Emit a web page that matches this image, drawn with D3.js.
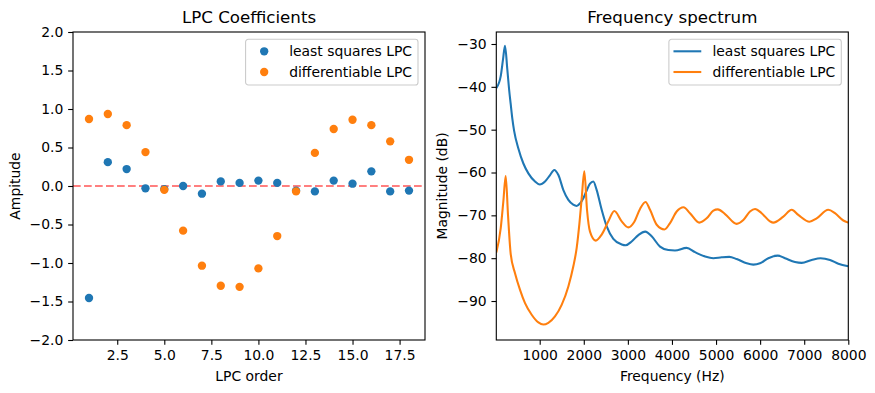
<!DOCTYPE html>
<html>
<head>
<meta charset="utf-8">
<script src="https://cdn.jsdelivr.net/npm/d3@7"></script>
<style>
body { margin: 0; background: #fff; }
svg { display: block; font-family: "DejaVu Sans", sans-serif; }
</style>
</head>
<body>
<svg width="875" height="393"></svg>
<script>
const blueColor = "#1f77b4";
const orangeColor = "#ff7f0e";

// LPC coefficients (left panel)
const lpcOrder = [1, 2, 3, 4, 5, 6, 7, 8, 9, 10, 11, 12, 13, 14, 15, 16, 17, 18];
const lsCoeffs = [-1.455, 0.31, 0.22, -0.03, -0.04, 0.0, -0.10, 0.06, 0.04, 0.07, 0.04, -0.06, -0.07, 0.07, 0.03, 0.19, -0.07, -0.06];
const diffCoeffs = [0.87, 0.935, 0.79, 0.44, -0.05, -0.58, -1.035, -1.295, -1.31, -1.07, -0.65, -0.07, 0.43, 0.74, 0.86, 0.79, 0.58, 0.34];

// frequency spectrum (right panel)
const lsFreq = [16, 116, 168, 213, 266, 305, 342, 380, 420, 516, 630, 743, 894, 1000, 1121, 1235, 1330, 1424, 1537, 1650, 1760, 1840, 1914, 1990, 2066, 2141, 2216, 2293, 2406, 2520, 2670, 2860, 2950, 3086, 3238, 3395, 3540, 3729, 3918, 4069, 4333, 4523, 4750, 4939, 5128, 5300, 5468, 5695, 5846, 5997, 6186, 6400, 6564, 6791, 6942, 7169, 7370, 7585, 7774, 8000];
const lsDb = [-40.3, -37.5, -33.6, -30.4, -36.0, -40.5, -44.0, -47.5, -50.3, -54.4, -57.9, -60.2, -62.1, -62.8, -62.1, -60.6, -59.4, -60.6, -64.1, -66.4, -67.5, -67.8, -67.2, -66.0, -64.2, -62.6, -62.1, -64.1, -68.7, -72.6, -75.5, -76.8, -77.0, -76.1, -74.6, -73.8, -74.9, -77.3, -78.1, -78.2, -77.6, -78.6, -79.6, -80.0, -79.8, -79.7, -80.2, -81.2, -81.5, -81.2, -80.0, -79.4, -80.0, -80.9, -81.1, -80.4, -80.0, -80.4, -81.3, -81.9];

const diffFreq = [16, 116, 175, 229, 281, 342, 440, 554, 667, 818, 970, 1083, 1196, 1347, 1498, 1650, 1763, 1839, 1900, 1953, 2012, 2073, 2141, 2270, 2406, 2557, 2693, 2860, 3010, 3140, 3276, 3400, 3503, 3654, 3830, 3956, 4107, 4262, 4409, 4620, 4787, 4939, 5040, 5204, 5468, 5619, 5770, 5885, 6035, 6224, 6299, 6526, 6716, 6866, 7120, 7282, 7546, 7698, 7887, 8000];
const diffDb = [-78.7, -73.0, -66.8, -60.8, -69.9, -79.0, -83.5, -87.4, -90.5, -93.2, -95.0, -95.5, -95.1, -93.6, -90.9, -86.6, -81.9, -77.6, -72.0, -66.0, -59.7, -68.7, -73.8, -75.9, -74.5, -71.4, -69.0, -71.4, -72.8, -71.6, -68.5, -66.9, -68.7, -72.2, -73.3, -71.8, -69.1, -68.1, -69.5, -71.7, -70.7, -68.9, -68.6, -69.7, -72.0, -71.1, -69.1, -68.5, -69.5, -71.4, -71.7, -70.3, -68.7, -69.9, -71.5, -70.7, -68.7, -69.5, -71.2, -71.7];

const leftTicksX = [2.5, 5.0, 7.5, 10.0, 12.5, 15.0, 17.5];
const leftTicksY = [-2.0, -1.5, -1.0, -0.5, 0.0, 0.5, 1.0, 1.5, 2.0];
const rightTicksX = [1000, 2000, 3000, 4000, 5000, 6000, 7000, 8000];
const rightTicksY = [-90, -80, -70, -60, -50, -40, -30];

const seriesNames = ["least squares LPC", "differentiable LPC"];

const fontSize = 13.9;
const tickLen = 4.86;
const svg = d3.select("svg");

const leftBox = {x0: 73, x1: 425, y0: 32, y1: 340};
const rightBox = {x0: 496.3, x1: 848.3, y0: 32, y1: 340};

function drawAxes(box, x, y, xTicks, yTicks, xFmt, yFmt, title, xLabel, yLabel, yLabelX) {
    let g = svg.append("g");
    let ax = g.append("g").attr("transform", "translate(0," + box.y1 + ")")
        .call(d3.axisBottom(x).tickValues(xTicks).tickFormat(xFmt).tickSize(tickLen).tickSizeOuter(0).tickPadding(4.86));
    let ay = g.append("g").attr("transform", "translate(" + box.x0 + ",0)")
        .call(d3.axisLeft(y).tickValues(yTicks).tickFormat(yFmt).tickSize(tickLen).tickSizeOuter(0).tickPadding(4.86));
    [ax, ay].forEach(a => {
        a.attr("font-family", null).attr("font-size", null);
        a.select(".domain").remove();
        a.selectAll("line").attr("stroke", "#000").attr("stroke-width", 1.1);
        a.selectAll("text").attr("fill", "#000").style("font-size", fontSize + "px");
    });
    g.append("rect")
        .attr("x", box.x0).attr("y", box.y0)
        .attr("width", box.x1 - box.x0).attr("height", box.y1 - box.y0)
        .attr("fill", "none").attr("stroke", "#000").attr("stroke-width", 1.1);
    g.append("text")
        .attr("x", (box.x0 + box.x1) / 2).attr("y", box.y0 - 8.6)
        .attr("text-anchor", "middle").style("font-size", "16.67px").text(title);
    g.append("text")
        .attr("x", (box.x0 + box.x1) / 2).attr("y", 381)
        .attr("text-anchor", "middle").style("font-size", fontSize + "px").text(xLabel);
    g.append("text")
        .attr("transform", "translate(" + yLabelX + "," + (box.y0 + box.y1) / 2 + ") rotate(-90)")
        .attr("text-anchor", "middle").style("font-size", fontSize + "px").text(yLabel);
}

function drawLegend(box, kind) {
    let g = svg.append("g");
    let frame = g.append("rect");
    let colors = [blueColor, orangeColor];
    let rowY = [12, 32.7];
    let maxW = 0;
    seriesNames.forEach((name, i) => {
        let t = g.append("text").attr("x", 43.6).attr("y", rowY[i]).attr("dy", "0.35em")
            .style("font-size", fontSize + "px").text(name);
        maxW = Math.max(maxW, t.node().getComputedTextLength());
        if (kind === "dot") {
            g.append("circle").attr("cx", 18.6).attr("cy", rowY[i]).attr("r", 4.17).attr("fill", colors[i]);
        } else {
            g.append("line").attr("x1", 4.6).attr("x2", 32.4).attr("y1", rowY[i]).attr("y2", rowY[i])
                .attr("stroke", colors[i]).attr("stroke-width", 2.08);
        }
    });
    let w = 43.6 + maxW + 6;
    frame.attr("x", 0).attr("y", 0).attr("width", w).attr("height", 45.7).attr("rx", 2.8)
        .attr("fill", "#fff").attr("fill-opacity", 0.8).attr("stroke", "#cccccc").attr("stroke-width", 1.1);
    g.attr("transform", "translate(" + (box.x1 - 7 - w) + "," + (box.y0 + 7.3) + ")");
}

// ---- left: LPC coefficients
let xL = d3.scaleLinear().domain([0.15, 18.85]).range([leftBox.x0, leftBox.x1]);
let yL = d3.scaleLinear().domain([-2, 2]).range([leftBox.y1, leftBox.y0]);

svg.append("line")
    .attr("x1", leftBox.x0).attr("x2", leftBox.x1).attr("y1", yL(0)).attr("y2", yL(0))
    .attr("stroke", "red").attr("stroke-opacity", 0.5).attr("stroke-width", 2.08)
    .attr("stroke-dasharray", "7.7,3.3");

[[lsCoeffs, blueColor], [diffCoeffs, orangeColor]].forEach(([vals, col]) => {
    svg.append("g").selectAll("circle")
        .data(d3.zip(lpcOrder, vals)).enter()
        .append("circle")
        .attr("cx", d => xL(d[0]))
        .attr("cy", d => yL(d[1]))
        .attr("r", 4.17)
        .attr("fill", col);
});

drawAxes(leftBox, xL, yL, leftTicksX, leftTicksY, d3.format(".1f"), d3.format(".1f"),
    "LPC Coefficients", "LPC order", "Ampitude", 20);
drawLegend(leftBox, "dot");

// ---- right: frequency spectrum
let xR = d3.scaleLinear().domain([15.6, 8000]).range([rightBox.x0, rightBox.x1]);
let yR = d3.scaleLinear().domain([-99.1, -27.2]).range([rightBox.y1, rightBox.y0]);

svg.append("clipPath").attr("id", "clipR").append("rect")
    .attr("x", rightBox.x0).attr("y", rightBox.y0)
    .attr("width", rightBox.x1 - rightBox.x0).attr("height", rightBox.y1 - rightBox.y0);

let line = d3.line().x(d => xR(d[0])).y(d => yR(d[1])).curve(d3.curveMonotoneX);
let lines = svg.append("g").attr("clip-path", "url(#clipR)");
[[lsFreq, lsDb, blueColor], [diffFreq, diffDb, orangeColor]].forEach(([f, db, col]) => {
    lines.append("path")
        .datum(d3.zip(f, db))
        .attr("d", line)
        .attr("fill", "none")
        .attr("stroke", col)
        .attr("stroke-width", 2.08)
        .attr("stroke-linejoin", "round");
});

drawAxes(rightBox, xR, yR, rightTicksX, rightTicksY, d3.format("d"), d3.format("d"),
    "Frequency spectrum", "Frequency (Hz)", "Magnitude (dB)", 447);
drawLegend(rightBox, "line");
</script>
</body>
</html>
